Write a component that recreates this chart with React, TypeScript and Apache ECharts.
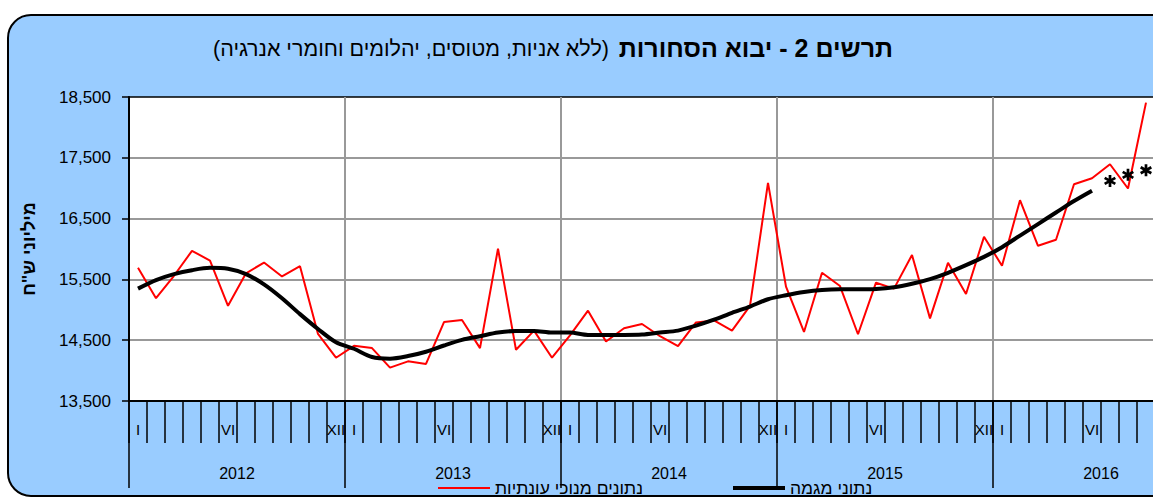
import React, { useEffect, useRef } from 'react';
import * as echarts from 'echarts';

const years = ['2012', '2013', '2014', '2015', '2016'];
const monthMarks = ['I', '', '', '', '', 'VI', '', '', '', '', '', 'XII'];

// Seasonally adjusted imports (NIS millions), Jan 2012 – Sep 2016
const seasonallyAdjusted = [
  15690, 15190, 15560, 15970, 15810, 15065, 15600, 15777, 15549, 15717, 14603, 14212,
  14408, 14370, 14049, 14152, 14109, 14799, 14832, 14370, 16005, 14342, 14658, 14212,
  14580, 14985, 14478, 14696, 14766, 14565, 14402, 14793, 14826, 14658, 15065, 17087,
  15380, 14636, 15609, 15391, 14598, 15446, 15348, 15902, 14859, 15772, 15261, 16200,
  15725, 16803, 16053, 16152, 17066, 17164, 17394, 16995, 18407,
];

// Trend, Jan 2012 – Jun 2016
const trend = [
  15348, 15489, 15587, 15652, 15690, 15674, 15587, 15418, 15190, 14929, 14685, 14467,
  14359, 14223, 14196, 14239, 14310, 14413, 14505, 14565, 14625, 14652, 14652, 14625,
  14625, 14587, 14587, 14587, 14592, 14625, 14658, 14739, 14837, 14951, 15054, 15174,
  15240, 15293, 15326, 15337, 15337, 15342, 15370, 15429, 15505, 15609, 15734, 15870,
  16030, 16220, 16410, 16600, 16790, 16960,
];

// Trend estimates (asterisks), Jul – Sep 2016
const trendEstimate = [17120, 17220, 17295];
const estimateStartIndex = 54;

// last month label that falls inside the visible picture
const lastShownMonthIndex = 58;

const TITLE_BOLD = 'תרשים 2 - יבוא הסחורות';
const TITLE_REST = '(ללא אניות, מטוסים, יהלומים וחומרי אנרגיה)';
const Y_NAME = 'מיליוני ש"ח';
const LEGEND_SA = 'נתונים מנוכי עונתיות';
const LEGEND_TREND = 'נתוני מגמה';

const FONT = '"Liberation Sans", Arial, sans-serif';

const ASTERISK =
  'path://M3.9,0 L6.1,0 L6.1,10 L3.9,10 Z M8.78,8.45 L0.12,3.45 L1.22,1.55 L9.88,6.55 Z M9.88,3.45 L1.22,8.45 L0.12,6.55 L8.78,1.55 Z';

export default function App() {
  const ref = useRef<HTMLDivElement>(null);

  useEffect(() => {
    if (!ref.current) return;
    const chart = echarts.init(ref.current, null, { renderer: 'svg' });
    const categories = years.flatMap((y) => monthMarks.map((_, i) => `${y}-${i + 1}`));
    const estimateData = trendEstimate.map((v, i) => [estimateStartIndex + i, v]);

    const legendItem = (x: number, color: string, width: number, label: string) => ({
      type: 'group',
      children: [
        {
          type: 'line',
          shape: { x1: x, y1: 488, x2: x + 52, y2: 488 },
          style: { stroke: color, lineWidth: width },
        },
        {
          type: 'text',
          x: x + 57,
          y: 488,
          style: {
            text: label,
            font: `17.5px ${FONT}`,
            fill: '#000',
            align: 'left',
            verticalAlign: 'middle',
          },
        },
      ],
    });

    chart.setOption({
      animation: false,
      textStyle: { fontFamily: FONT },
      grid: {
        left: 129,
        top: 97,
        width: 1080,
        height: 304,
        show: true,
        backgroundColor: '#ffffff',
        borderColor: '#000000',
        borderWidth: 1.5,
      },
      graphic: [
        {
          type: 'text',
          x: 893,
          y: 48,
          style: {
            text: TITLE_BOLD,
            font: `bold 25px ${FONT}`,
            fill: '#000',
            align: 'right',
            verticalAlign: 'middle',
          },
        },
        {
          type: 'text',
          x: 609,
          y: 49,
          style: {
            text: TITLE_REST,
            font: `21.5px ${FONT}`,
            fill: '#000',
            align: 'right',
            verticalAlign: 'middle',
          },
        },
        legendItem(438, '#ff0000', 2, LEGEND_SA),
        legendItem(733, '#000000', 4, LEGEND_TREND),
      ],
      xAxis: [
        {
          type: 'category',
          data: categories,
          boundaryGap: true,
          position: 'bottom',
          axisLine: { show: true, lineStyle: { color: '#000', width: 2 } },
          axisTick: { show: true, interval: 0, length: 42, lineStyle: { color: '#000', width: 1.5 } },
          axisLabel: {
            interval: 0,
            margin: 21,
            fontSize: 15,
            color: '#000',
            formatter: (_v: string, i: number) => (i <= lastShownMonthIndex ? monthMarks[i % 12] : ''),
          },
          splitLine: { show: false },
        },
        {
          type: 'category',
          data: years,
          boundaryGap: true,
          position: 'bottom',
          axisLine: { show: false },
          axisTick: { show: true, interval: 0, length: 87, lineStyle: { color: '#000', width: 1.5 } },
          axisLabel: { interval: 0, margin: 64, fontSize: 16, color: '#000' },
          splitLine: { show: true, interval: 0, lineStyle: { color: '#999', width: 2 } },
        },
      ],
      yAxis: {
        type: 'value',
        min: 13500,
        max: 18500,
        interval: 1000,
        name: Y_NAME,
        nameLocation: 'middle',
        nameRotate: 90,
        nameGap: 91,
        nameTextStyle: { fontSize: 18, fontWeight: 'bold', color: '#000', fontFamily: FONT },
        axisLine: { show: true, lineStyle: { color: '#000', width: 2 } },
        axisTick: { show: true, length: 7, lineStyle: { color: '#000', width: 1.5 } },
        axisLabel: {
          margin: 18,
          fontSize: 17,
          color: '#000',
          formatter: (v: number) => v.toLocaleString('en-US'),
        },
        splitLine: { show: true, showMaxLine: false, showMinLine: false, lineStyle: { color: '#999', width: 2 } },
      },
      series: [
        {
          name: LEGEND_SA,
          type: 'line',
          data: seasonallyAdjusted,
          xAxisIndex: 0,
          symbol: 'none',
          lineStyle: { color: '#ff0000', width: 2 },
          itemStyle: { color: '#ff0000' },
          z: 3,
        },
        {
          name: LEGEND_TREND,
          type: 'line',
          data: trend,
          xAxisIndex: 0,
          symbol: 'none',
          smooth: 0.3,
          lineStyle: { color: '#000', width: 4 },
          itemStyle: { color: '#000' },
          z: 4,
        },
        {
          name: 'אומדן מגמה',
          type: 'scatter',
          data: estimateData,
          xAxisIndex: 0,
          symbol: ASTERISK,
          symbolSize: 12,
          itemStyle: { color: '#000', opacity: 1 },
          z: 5,
        },
      ],
    });

    return () => chart.dispose();
  }, []);

  return (
    <div
      style={{
        position: 'absolute',
        left: 0,
        top: 0,
        width: 1153,
        height: 499,
        overflow: 'hidden',
        background: '#fff',
      }}
    >
      <div
        style={{
          position: 'absolute',
          left: 7,
          top: 14,
          width: 1220,
          height: 483,
          boxSizing: 'border-box',
          border: '2px solid #000',
          borderRadius: 24,
          background: '#99CCFF',
        }}
      />
      <div ref={ref} style={{ position: 'absolute', left: 0, top: 0, width: 1230, height: 499 }} />
    </div>
  );
}
